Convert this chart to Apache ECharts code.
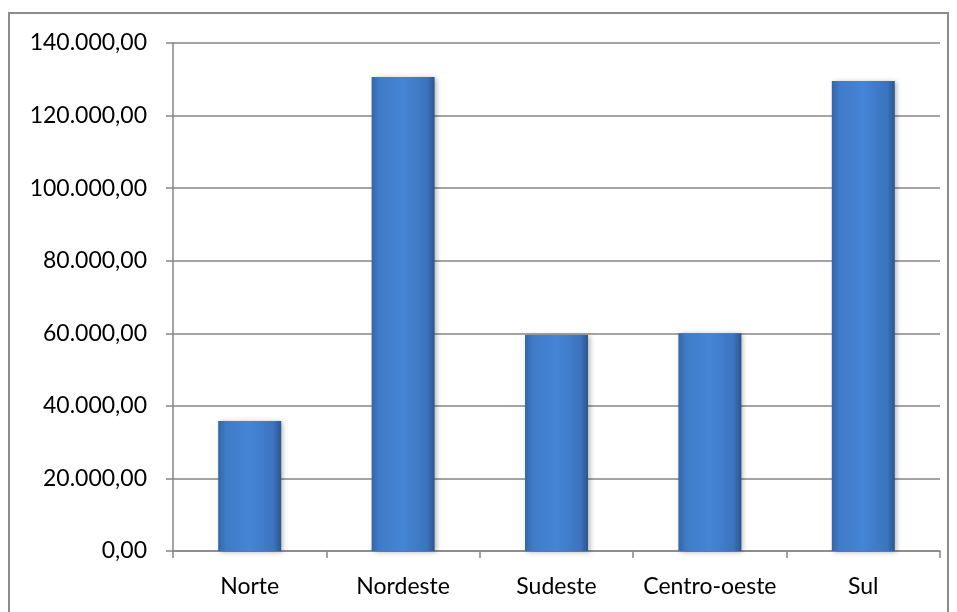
<!DOCTYPE html>
<html>
<head>
<meta charset="utf-8">
<script src="https://cdn.jsdelivr.net/npm/echarts@6/dist/echarts.min.js"></script>
<style>
  html, body { margin:0; padding:0; background:#fff; }
  #chart { width:957px; height:612px; }
</style>
</head>
<body>
<div id="chart"></div>
<script>
// regioes e valores
var regioes = ["Norte", "Nordeste", "Sudeste", "Centro-oeste", "Sul"];
var valores = [35800, 130600, 59500, 60000, 129500];
var yMin = 0, yMax = 140000, yStep = 20000;

function fmtBR(v){
  var s = Math.round(v).toString().replace(/\B(?=(\d{3})+(?!\d))/g, ".");
  return s + ",00";
}

var chart = echarts.init(document.getElementById("chart"));

var barColor = new echarts.graphic.LinearGradient(0, 0, 1, 0, [
  {offset:0, color:"#3466a8"},
  {offset:0.12, color:"#3f7bc8"},
  {offset:0.5, color:"#4585d6"},
  {offset:0.88, color:"#3b74bf"},
  {offset:1, color:"#2b558d"}
]);

var options = {
  backgroundColor:"#fff",
  textStyle:{ fontFamily:"Lato", color:"#000" },
  animation:false,
  grid:{ left:173, right:17, top:43, bottom:61, containLabel:false },
  graphic:[{
    type:"rect",
    shape:{ x:9, y:13, width:939, height:620 },
    style:{ fill:"none", stroke:"#8c8c8c", lineWidth:2 },
    silent:true
  }],
  xAxis:{
    type:"category",
    data:regioes,
    boundaryGap:true,
    axisLine:{ show:true, lineStyle:{ color:"#868686", width:1.5 } },
    axisTick:{ show:true, length:7, interval:0, lineStyle:{ color:"#868686", width:1.5 } },
    axisLabel:{ fontSize:23, color:"#000", margin:24, interval:0, fontFamily:"Lato" }
  },
  yAxis:{
    type:"value",
    min:yMin, max:yMax, interval:yStep,
    axisLine:{ show:true, lineStyle:{ color:"#868686", width:1.5 } },
    axisTick:{ show:true, length:7, lineStyle:{ color:"#868686", width:1.5 } },
    splitLine:{ show:true, lineStyle:{ color:"#868686", width:1.5 } },
    axisLabel:{ fontSize:23, color:"#000", margin:26, fontFamily:"Lato", formatter:fmtBR }
  },
  series:[{
    type:"bar",
    data:valores,
    barWidth:63,
    itemStyle:{
      color:barColor,
      shadowBlur:5,
      shadowOffsetX:2,
      shadowOffsetY:1,
      shadowColor:"rgba(0,0,0,0.3)"
    }
  }]
};

chart.setOption(options);
</script>
</body>
</html>
